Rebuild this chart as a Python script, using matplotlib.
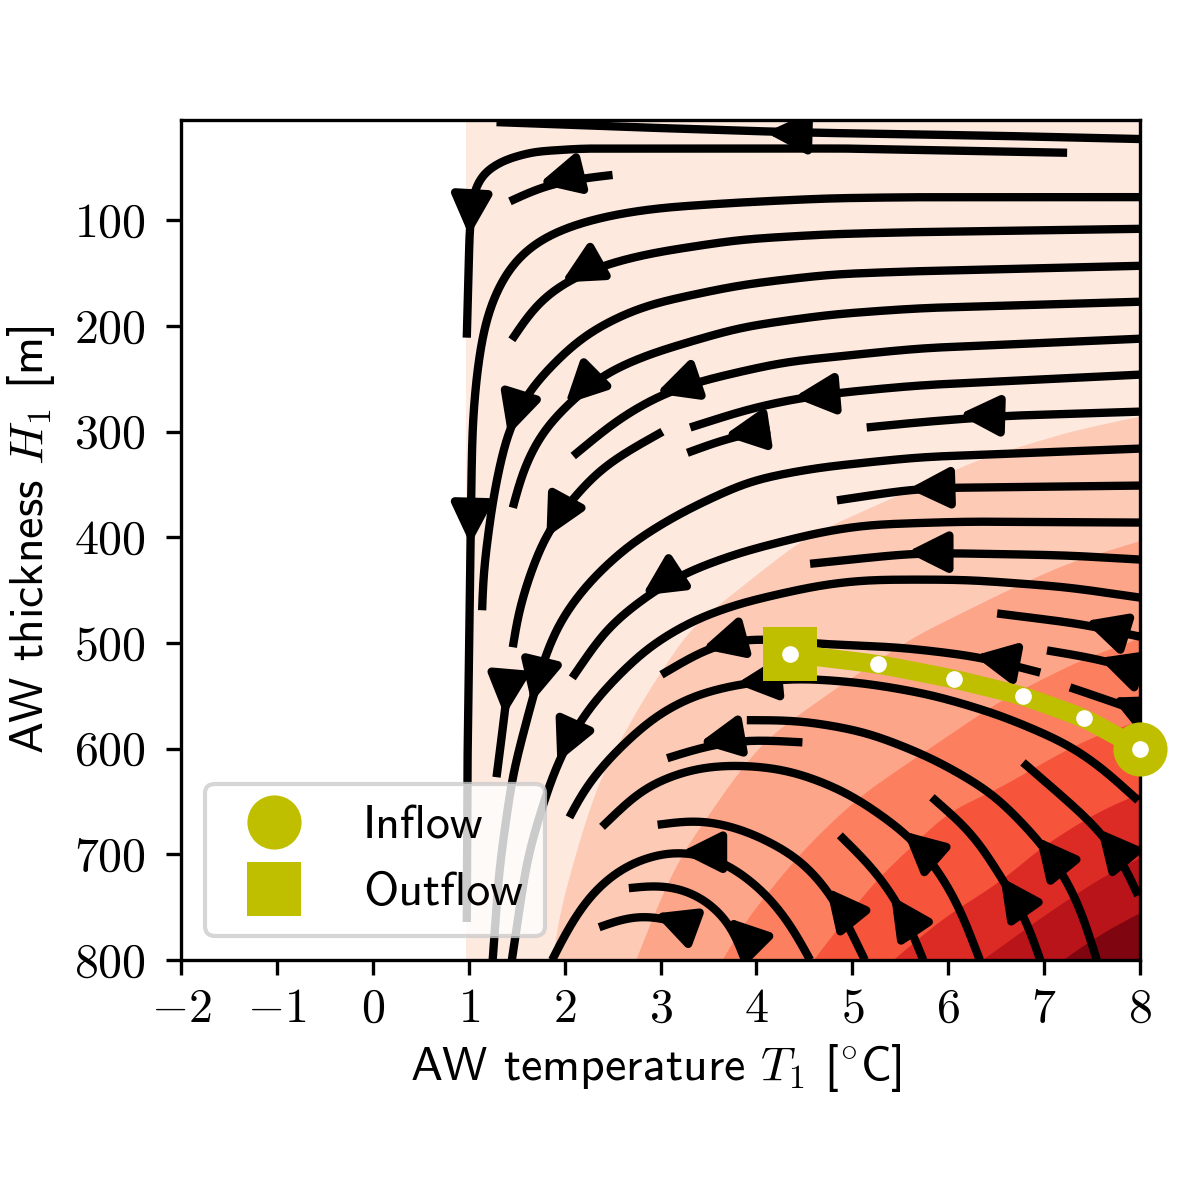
import numpy as np
import matplotlib
matplotlib.use("Agg")
import matplotlib.pyplot as plt
from matplotlib.patches import FancyArrowPatch
from matplotlib.lines import Line2D

plt.rcParams["mathtext.fontset"] = "cm"
plt.rcParams["font.family"] = ["cmss10", "DejaVu Sans"]
plt.rcParams["font.size"] = 11.5

# ---------- data (T in degC, H in m) ----------
x_ticks = [-2, -1, 0, 1, 2, 3, 4, 5, 6, 7, 8]
y_ticks = [100, 200, 300, 400, 500, 600, 700, 800]

band_colors = ["#fee9df", "#fdcab5", "#fca588", "#fc7f5f", "#f6553c", "#dc2a25", "#b81419", "#7f0510"]
domain_T = [0.97, 8.0]

b1_T = [1.87, 1.95, 2.16, 2.37, 2.61, 2.87, 3.31, 3.75, 4.45, 4.66, 5.67, 6.36, 6.78, 7.24, 8.0]
b1_H = [800, 753, 684, 627, 586, 545, 485, 453, 403, 393, 352, 324, 313, 300, 285]
b2_T = [2.74, 2.99, 3.22, 3.80, 4.11, 4.77, 5.63, 6.61, 7.24, 8.0]
b2_H = [800, 743, 699, 623, 589, 546, 494, 450, 424, 403]
b3_T = [3.64, 3.90, 4.45, 4.77, 5.11, 5.84, 6.54, 7.37, 8.0]
b3_H = [800, 760, 699, 670, 642, 597, 554, 516, 495]
b4_T = [4.59, 5.21, 6.01, 6.54, 6.96, 7.48, 8.0]
b4_H = [800, 727, 658, 637, 614, 589, 573]
b5_T = [5.42, 5.94, 6.57, 6.96, 7.58, 8.0]
b5_H = [800, 760, 724, 693, 658, 642]
b6_T = [6.35, 6.96, 7.58, 8.0]
b6_H = [800, 760, 722, 703]
b7_T = [7.19, 7.58, 8.0]
b7_H = [800, 775, 755]

s01_T = [1.29, 2.78, 4.16, 4.56, 6.54, 8.0]
s01_H = [7, 12, 16, 17, 20, 23]
s02_T = [7.24, 4.97, 2.89, 2.19, 1.67, 1.36, 1.15, 1.05, 1.01, 0.98]
s02_H = [36, 32, 32, 32, 35, 43, 55, 73, 109, 211]
s03_T = [2.50, 2.19, 1.79, 1.43]
s03_H = [57, 60, 66, 82]
s04_T = [8.0, 5.70, 4.77, 3.83, 2.99, 2.47, 2.02, 1.67, 1.43, 1.25, 1.15, 1.08, 1.04, 1.03, 1.02, 0.99, 0.98]
s04_H = [78, 78, 79, 83, 88, 95, 106, 121, 142, 173, 204, 248, 292, 336, 401, 582, 764]
s05_T = [8.0, 5.70, 4.77, 3.83, 2.89, 2.40, 2.02, 1.71, 1.45]
s05_H = [108, 111, 113, 118, 131, 142, 157, 177, 213]
s06_T = [8.0, 5.70, 4.77, 3.83, 2.89, 2.58, 2.19, 1.92, 1.61, 1.41, 1.32, 1.25, 1.15, 1.14]
s06_H = [143, 148, 151, 161, 179, 190, 209, 232, 262, 298, 333, 365, 434, 469]
s07_T = [8.0, 5.70, 4.77, 3.83, 2.89, 2.40, 2.08, 1.77, 1.56, 1.46]
s07_H = [177, 183, 189, 201, 226, 245, 270, 298, 336, 372]
s08_T = [8.0, 5.70, 4.28, 3.41, 2.99, 2.54, 2.09]
s08_H = [212, 221, 234, 252, 265, 289, 323]
s09_T = [8.0, 5.70, 4.87, 4.45, 3.93, 3.31]
s09_H = [246, 256, 263, 268, 278, 296]
s10_T = [8.0, 6.57, 5.70, 5.15]
s10_H = [281, 285, 291, 296]
s11_T = [4.14, 3.72, 3.28]
s11_H = [298, 305, 320]
s12_T = [3.02, 2.68, 2.35, 2.09, 1.82, 1.64, 1.51, 1.46]
s12_H = [300, 317, 336, 363, 393, 434, 472, 504]
s13_T = [8.0, 5.70, 4.63, 3.93, 3.20, 2.68, 2.26, 1.95, 1.79, 1.67, 1.46, 1.32, 1.25]
s13_H = [316, 324, 334, 346, 377, 406, 441, 478, 513, 551, 623, 712, 800]
s14_T = [8.0, 6.19, 5.15, 4.66, 3.83, 3.23, 2.86, 2.44, 2.08]
s14_H = [386, 385, 388, 395, 414, 434, 455, 485, 533]
s15_T = [8.0, 6.04, 5.65, 4.84]
s15_H = [351, 353, 354, 365]
s16_T = [8.0, 7.24, 6.04, 5.63, 4.56]
s16_H = [421, 417, 415, 415, 425]
s17_T = [8.0, 7.24, 6.19, 5.15, 4.66, 3.83, 3.34, 2.86, 2.40, 2.16, 1.95, 1.81, 1.61, 1.45]
s17_H = [457, 447, 440, 440, 445, 462, 478, 504, 545, 573, 608, 642, 703, 800]
s18_T = [6.96, 6.33, 5.50, 4.64, 4.24, 3.88, 3.49, 3.01]
s18_H = [528, 513, 504, 501, 497, 495, 504, 530]
s19_T = [8.0, 7.87, 7.48, 6.51]
s19_H = [494, 492, 483, 472]
s20_T = [8.1, 7.63, 7.03]
s20_H = [530, 516, 507]
s21_T = [8.12, 7.76, 7.27]
s21_H = [569, 557, 542]
s22_T = [7.98, 7.58, 7.24, 6.54, 5.84, 5.15, 4.45, 3.85, 3.34, 2.92, 2.47, 2.19, 2.05]
s22_H = [649, 616, 595, 568, 549, 538, 533, 538, 549, 570, 608, 639, 665]
s23_T = [2.39, 2.82, 3.34, 3.75, 4.21, 4.45, 4.97, 5.57, 5.88, 6.12, 6.33]
s23_H = [674, 636, 618, 615, 618, 623, 642, 680, 712, 750, 800]
s24_T = [3.90, 4.45, 5.15, 5.84, 6.47, 6.96, 7.23, 7.40, 7.55]
s24_H = [573, 573, 584, 609, 642, 688, 722, 756, 800]
s25_T = [4.48, 3.90, 3.48, 3.07]
s25_H = [594, 591, 597, 609]
s26_T = [2.97, 3.41, 3.90, 4.45, 4.77, 4.97, 5.13]
s26_H = [672, 666, 677, 703, 736, 769, 800]
s27_T = [1.87, 1.95, 2.23, 2.58, 2.99, 3.27, 3.69, 4.11, 4.38, 4.56]
s27_H = [800, 784, 741, 712, 698, 696, 707, 737, 769, 800]
s28_T = [2.67, 3.02, 3.41, 3.75, 3.88]
s28_H = [732, 727, 737, 765, 800]
s29_T = [2.36, 2.71, 2.99, 3.30]
s29_H = [769, 756, 758, 768]
s30_T = [4.87, 5.21, 5.46, 5.65, 5.74]
s30_H = [682, 712, 743, 778, 800]
s31_T = [5.83, 6.26, 6.59, 6.82, 6.96]
s31_H = [646, 680, 727, 762, 800]
s32_T = [6.78, 7.24, 7.58, 7.86, 7.98]
s32_H = [613, 649, 677, 712, 739]
s33_T = [1.42, 1.38, 1.29]
s33_H = [531, 563, 627]

# arrow heads: a point behind the head and the tip point
arrow_base_T = [4.56, 1.03, 2.15, 2.35, 1.54, 2.34, 3.37, 4.84, 4.09, 6.57, 1.03, 2.02, 3.18, 3.86, 1.41, 1.76, 4.19,
                2.11, 3.84, 3.67, 3.41, 4.07, 5.02, 5.67, 5.88, 6.82, 7.23, 7.86, 6.04, 6.02, 7.84, 6.68, 8.03, 8.12]
arrow_base_H = [18, 77, 56, 139, 266, 244, 251, 264, 298, 285, 367, 365, 433, 495, 531, 517, 535,
                576, 588, 698, 772, 794, 764, 775, 706, 757, 718, 708, 353, 414, 491, 519, 528, 569]
arrow_tip_T = [4.16, 1.01, 1.79, 2.02, 1.43, 2.05, 3.01, 4.45, 3.72, 6.17, 1.02, 1.84, 2.86, 3.49, 1.38, 1.67, 3.85,
               1.95, 3.46, 3.27, 2.99, 3.74, 4.77, 5.44, 5.58, 6.58, 6.96, 7.60, 5.65, 5.63, 7.48, 6.33, 7.63, 7.76]
arrow_tip_H = [17, 109, 64, 156, 298, 270, 262, 267, 303, 284, 401, 395, 452, 504, 563, 551, 538,
               608, 594, 698, 758, 764, 736, 744, 682, 726, 688, 680, 354, 414, 481, 513, 516, 554]

path_T = [8.0, 7.42, 6.78, 6.06, 5.27, 4.35]
path_H = [600, 571, 550, 534, 520, 510]

streams = [(s01_T, s01_H), (s02_T, s02_H), (s03_T, s03_H), (s04_T, s04_H), (s05_T, s05_H), (s06_T, s06_H),
           (s07_T, s07_H), (s08_T, s08_H), (s09_T, s09_H), (s10_T, s10_H), (s11_T, s11_H), (s12_T, s12_H),
           (s13_T, s13_H), (s14_T, s14_H), (s15_T, s15_H), (s16_T, s16_H), (s17_T, s17_H), (s18_T, s18_H),
           (s19_T, s19_H), (s20_T, s20_H), (s21_T, s21_H), (s22_T, s22_H), (s23_T, s23_H), (s24_T, s24_H),
           (s25_T, s25_H), (s26_T, s26_H), (s27_T, s27_H), (s28_T, s28_H), (s29_T, s29_H), (s30_T, s30_H),
           (s31_T, s31_H), (s32_T, s32_H), (s33_T, s33_H)]
bands = [(b1_T, b1_H), (b2_T, b2_H), (b3_T, b3_H), (b4_T, b4_H), (b5_T, b5_H), (b6_T, b6_H), (b7_T, b7_H)]

OLIVE = "#bfbf00"
SCALE = np.array([95.9, 1.056])  # data units to pixels, for arc lengths


def smoothed(T, H, sigma=22.0):
    """Smooth the hand-read polyline along its length, keeping both end points fixed."""
    P = np.column_stack([T, H]) * SCALE
    s = np.r_[0, np.cumsum(np.hypot(*np.diff(P, axis=0).T))]
    n = max(int(s[-1]), 4)
    t = np.linspace(0, s[-1], n)
    Q = np.column_stack([np.interp(t, s, P[:, 0]), np.interp(t, s, P[:, 1])])
    m = int(3 * sigma)
    k = np.exp(-0.5 * (np.arange(-m, m + 1) / sigma) ** 2)
    k /= k.sum()
    out = np.zeros_like(Q)
    for j in range(2):
        left = 2 * Q[0, j] - np.interp(np.arange(m, 0, -1) * s[-1] / (n - 1), t, Q[:, j])
        right = 2 * Q[-1, j] - np.interp(s[-1] - np.arange(1, m + 1) * s[-1] / (n - 1), t, Q[:, j])
        out[:, j] = np.convolve(np.r_[left, Q[:, j], right], k, mode="valid")
    out = out / SCALE
    return out[:, 0], out[:, 1]


fig = plt.figure(figsize=(4, 4), dpi=300)
ax = fig.add_axes([181 / 1200, 240 / 1200, 959 / 1200, 840 / 1200])

# filled bands
ax.fill_between(domain_T, [5, 5], [800, 800], color=band_colors[0], lw=0, zorder=1)
for (bT, bH), col in zip(bands, band_colors[1:]):
    xs, ys = smoothed(bT, bH, sigma=20)
    ax.fill_between(xs, ys, 800, color=col, lw=0, zorder=1)

# streamlines
for sT, sH in streams:
    xs, ys = smoothed(sT, sH, sigma=10 if sT is s02_T else 22)
    ax.plot(xs, ys, color="k", lw=2.0, solid_capstyle="butt", zorder=2)
for bx, by, tx, ty in zip(arrow_base_T, arrow_base_H, arrow_tip_T, arrow_tip_H):
    b, tip = np.array([bx, by]) * SCALE, np.array([tx, ty]) * SCALE
    u = (tip - b) / np.hypot(*(tip - b))
    ax.add_patch(FancyArrowPatch(tuple((tip - 24 * u) / SCALE), tuple((tip + 6 * u) / SCALE), arrowstyle="-|>",
                                 mutation_scale=20, lw=2.0, color="k", shrinkA=0, shrinkB=0, zorder=2))

# inflow to outflow path
xs, ys = smoothed(path_T, path_H, sigma=12)
ax.plot(xs, ys, color=OLIVE, lw=4.5, solid_capstyle="butt", zorder=4)
ax.plot(path_T[0], path_H[0], "o", color=OLIVE, ms=13, mew=0, zorder=5, clip_on=False)
ax.plot(path_T[-1], path_H[-1], "s", color=OLIVE, ms=13, mew=0, zorder=5, clip_on=False)
ax.plot(path_T, path_H, "o", color="white", ms=4, mew=0, ls="none", zorder=6, clip_on=False)

ax.set_xlim(-2, 8)
ax.set_ylim(800, 5)
ax.set_xticks(x_ticks, labels=[f"${t}$" for t in x_ticks])
ax.set_yticks(y_ticks, labels=[f"${t}$" for t in y_ticks])
ax.tick_params(axis="x", pad=3.5)
ax.tick_params(axis="y", pad=5)
ax.set_xlabel(r"AW temperature $T_1$ [$^{\circ}$C]", labelpad=2.7, x=0.495)
ax.set_ylabel(r"AW thickness $H_1$ [m]")

handles = [Line2D([], [], marker="o", color=OLIVE, ms=13, mew=0, ls="none"),
           Line2D([], [], marker="s", color=OLIVE, ms=13, mew=0, ls="none")]
ax.legend(handles, ["Inflow", "Outflow"], loc="lower left", borderpad=0.45, handletextpad=0.85)

fig.savefig("out.png", dpi=300)
